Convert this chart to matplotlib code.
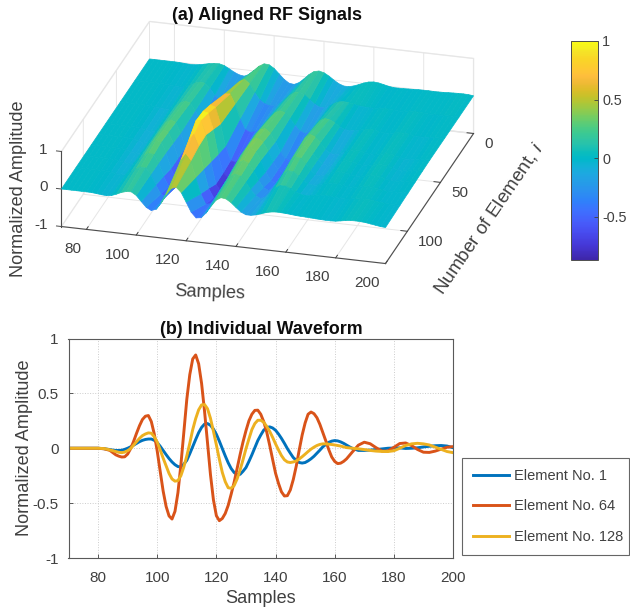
import numpy as np
import matplotlib
matplotlib.use("Agg")
import matplotlib.pyplot as plt
from matplotlib.colors import LinearSegmentedColormap, Normalize
from matplotlib.cm import ScalarMappable
from mpl_toolkits.mplot3d import Axes3D, proj3d  # noqa

plt.rcParams['font.family'] = ['Liberation Sans', 'DejaVu Sans']
plt.rcParams['axes.unicode_minus'] = False
plt.rcParams['mathtext.fontset'] = 'custom'
plt.rcParams['mathtext.it'] = 'Liberation Sans:italic'

samples = list(range(70, 201, 2))
flat = [0.0] * 6

element_1 = flat + [-.004,-.012,-.02,-.018,0,.028,.06,.08,.084,.052,-.02,-.094,-.15,-.17,-.11,.015,.142,.22,.209,.127,
    -.003,-.133,-.221,-.238,-.176,-.06,.07,.165,.195,.164,.09,-.003,-.085,-.13,-.13,-.096,-.045,.013,.054,.07,
    .058,.029,-.001,-.02,-.02,-.017,-.012,-.006,0,.002,.003,-.002,0,.004,.012,.018,.023,.025,.02,.005]
element_21 = flat + [-.004,-.015,-.034,-.04,-.019,.04,.11,.154,.14,.025,-.15,-.277,-.30,-.163,.085,.295,.362,.26,.05,-.133,
    -.226,-.268,-.252,-.176,-.058,.07,.167,.192,.137,.027,-.08,-.153,-.155,-.09,-.004,.053,.068,.058,.03,.003,
    -.01,-.015,-.012,-.003,.006,.008,-.005,-.012,-.01,.004,.017,.016,.008,-.001,-.005,-.001,.006,.013,.016,.008]
element_43 = flat + [-.005,-.017,-.046,-.058,-.034,.05,.154,.218,.187,.001,-.26,-.434,-.426,-.157,.25,.534,.55,.295,-.083,-.355,
    -.417,-.385,-.279,-.122,.042,.18,.25,.216,.088,-.09,-.226,-.282,-.215,-.057,.104,.181,.165,.097,.01,-.053,
    -.068,-.053,-.022,.011,.029,.02,0,-.019,-.016,.006,.029,.03,.016,-.006,-.019,-.018,-.009,.004,.013,.011]
element_64 = flat + [-.005,-.02,-.06,-.08,-.053,.062,.205,.292,.243,-.026,-.39,-.617,-.575,-.15,.446,.814,.77,.336,-.24,-.615,
    -.64,-.52,-.31,-.06,.16,.31,.347,.243,.03,-.227,-.397,-.432,-.285,-.017,.23,.33,.278,.142,-.013,-.12,
    -.136,-.097,-.033,.028,.055,.041,.005,-.026,-.025,.008,.043,.048,.024,-.011,-.036,-.038,-.026,-.008,.009,.015]
element_75 = flat + [-.005,-.021,-.063,-.087,-.057,.062,.21,.31,.27,0,-.39,-.66,-.65,-.25,.40,.93,.90,.48,-.17,-.65,
    -.76,-.62,-.38,-.09,.165,.33,.38,.29,.07,-.205,-.40,-.45,-.31,-.045,.205,.32,.28,.146,-.006,-.115,
    -.133,-.094,-.032,.024,.052,.036,.002,-.028,-.028,.004,.042,.049,.027,-.01,-.038,-.039,-.028,-.009,.005,.008]
element_85 = flat + [-.005,-.022,-.065,-.09,-.06,.06,.21,.32,.29,.03,-.38,-.68,-.72,-.36,.40,.96,1.0,.62,-.08,-.66,
    -.85,-.72,-.44,-.12,.17,.34,.41,.33,.11,-.18,-.40,-.46,-.33,-.07,.18,.31,.28,.15,0,-.11,
    -.13,-.09,-.03,.02,.05,.03,0,-.03,-.03,0,.04,.05,.03,-.01,-.04,-.04,-.03,-.01,0,0]
element_96 = flat + [-.005,-.02,-.055,-.075,-.05,.05,.175,.265,.245,.04,-.30,-.565,-.61,-.33,.225,.72,.90,.60,.01,-.49,
    -.72,-.64,-.41,-.135,.12,.285,.36,.30,.12,-.115,-.30,-.365,-.27,-.075,.12,.225,.21,.12,.01,-.07,
    -.09,-.065,-.022,.01,.03,.018,-.005,-.025,-.025,-.002,.028,.04,.032,.01,-.015,-.022,-.022,-.015,-.012,-.01]
element_107 = flat + [-.004,-.018,-.045,-.06,-.04,.04,.14,.21,.20,.05,-.22,-.45,-.50,-.30,.12,.50,.68,.52,.10,-.32,
    -.58,-.56,-.38,-.15,.07,.23,.31,.27,.13,-.05,-.20,-.27,-.21,-.08,.06,.14,.14,.09,.02,-.03,
    -.05,-.04,-.015,0,.01,.005,-.01,-.02,-.02,-.005,.015,.03,.035,.03,.01,-.005,-.015,-.02,-.025,-.02]
element_128 = flat + [-.003,-.015,-.03,-.04,-.022,.028,.09,.13,.137,.056,-.09,-.23,-.30,-.25,-.07,.17,.35,.398,.273,.03,
    -.22,-.36,-.34,-.2,-.005,.17,.255,.237,.155,.04,-.067,-.125,-.125,-.098,-.054,-.008,.025,.04,.037,.03,
    .02,.006,0,-.005,-.012,-.02,-.026,-.029,-.03,-.023,0,.025,.04,.045,.04,.03,.01,-.01,-.03,-.04]

# extra values read at the odd sample numbers for the line plot
odd_samples = list(range(83, 166, 2))
element_1_odd = [-.008,-.017,-.02,-.01,.013,.044,.072,.084,.072,.018,-.058,-.125,-.167,-.145,-.05,.08,.19,.225,.175,.065,
    -.07,-.185,-.24,-.21,-.12,.005,.12,.188,.185,.13,.045,-.045,-.11,-.135,-.115,-.073,-.017,.035,.065,.067,.045,.013]
element_64_odd = [-.012,-.04,-.072,-.078,-.004,.136,.262,.298,.13,-.21,-.53,-.645,-.405,.147,.67,.85,.59,.05,-.47,-.66,
    -.594,-.418,-.185,.057,.25,.345,.31,.15,-.10,-.32,-.435,-.38,-.163,.12,.31,.315,.217,.067,-.08,-.14,-.12,-.065]
element_128_odd = [-.008,-.022,-.037,-.035,-.003,.06,.115,.14,.105,-.015,-.16,-.28,-.295,-.17,.045,.27,.395,.36,.155,-.1,
    -.305,-.365,-.28,-.105,.085,.225,.255,.2,.10,-.015,-.105,-.13,-.115,-.077,-.03,.01,.035,.04,.034,.025,.013,.003]

surface_elements = [0, 22, 44, 66, 77, 88, 99, 111, 133]
surface_rows = [element_1, element_21, element_43, element_64, element_75, element_85, element_96, element_107, element_128]
x_ticks = list(range(80, 201, 20))
y_ticks = [0, 50, 100]
z_ticks = [-1, 0, 1]

line_labels = ['Element No. 1', 'Element No. 64', 'Element No. 128']
line_even = [element_1, element_64, element_128]
line_odd = [element_1_odd, element_64_odd, element_128_odd]
line_colors = ['#0072BD', '#D95319', '#EDB120']

W, H = 630, 609
parula_idx = [0,4,8,11,14,17,20,23,25,27,29,31,33,35,37,39,41,43,45,47,49,51,53,55,58,60,61,63]
parula_rgb = [
    (.2422,.1504,.6603),(.2706,.2147,.8364),(.2813,.3006,.9414),(.2760,.3667,.9829),(.2440,.4358,.9988),
    (.1834,.5074,.9798),(.1687,.5703,.9359),(.1380,.6276,.8973),(.1113,.6635,.8763),(.0689,.6948,.8394),
    (.0036,.7203,.7917),(.0433,.7411,.7394),(.1408,.7584,.6842),(.1938,.7758,.6251),(.2470,.7918,.5567),
    (.3406,.8008,.4789),(.4456,.8024,.3909),(.5616,.7942,.3045),(.6720,.7793,.2227),(.7738,.7598,.1646),
    (.8634,.7406,.1596),(.9393,.7288,.2100),(.9956,.7434,.2371),(.9952,.7861,.1991),(.9769,.8390,.1507),
    (.9610,.8890,.1537),(.9628,.9373,.1265),(.9769,.9839,.0805)]
parula = LinearSegmentedColormap.from_list('parula', [(i / 63, c) for i, c in zip(parula_idx, parula_rgb)], N=256)
norm = Normalize(-0.87, 1)

dark = (.25, .25, .25)
axis_col = (.3, .3, .3)
fig = plt.figure(figsize=(W / 100, H / 100), dpi=100)

# ---------- 3D surface ----------
L = 480
cx, cy = 267.5, 142.5
left = cx - .5135 * L
bottom_from_top = cy + .5135 * L
ax3 = fig.add_axes([left / W, 1 - bottom_from_top / H, L / W, L / H], projection='3d')
ax3.patch.set_visible(False)
ax3.set_proj_type('ortho')
ax3.view_init(elev=24.25, azim=-74.46)
ax3.set_box_aspect((336.3, 328.6, 82.3), zoom=.9655)

X, Y = np.meshgrid(samples, surface_elements)
Z = np.array(surface_rows)
Zavg = (Z[:-1, :-1] + Z[1:, :-1] + Z[:-1, 1:] + Z[1:, 1:]) / 4
fc = parula(norm(Zavg))
surf = ax3.plot_surface(X, Y, Z, rstride=1, cstride=1, facecolors=fc, shade=False, linewidth=0.5)
surf.set_edgecolor(fc.reshape(-1, 4))

ax3.set_xlim(70, 200)
ax3.set_ylim(133, 0)
ax3.set_zlim(-1, 1)
ax3.set_xticks(x_ticks)
ax3.set_yticks(y_ticks)
ax3.set_zticks(z_ticks)
ax3.set_zticklabels([])
ax3.zaxis.set_ticks_position('none')
for axis in (ax3.xaxis, ax3.yaxis, ax3.zaxis):
    axis.pane.set_facecolor((1, 1, 1, 0))
    axis.pane.set_edgecolor((.87, .87, .87))
    axis.line.set_color(axis_col)
    axis.line.set_linewidth(.8)
    axis._axinfo['grid'].update(color=(.9, .9, .9), linewidth=.7)
    axis._axinfo['tick'].update(inward_factor=0, outward_factor=.25)
    axis._axinfo['tick']['linewidth'] = {True: .7, False: .5}
    axis._axinfo['tick']['color'] = axis_col
ax3.tick_params(labelsize=11, colors=dark, pad=3)
ax3.tick_params(axis='y', pad=-2)
for t in ax3.get_xticklabels():
    t.set_ha('right')
for t in ax3.get_yticklabels():
    t.set_ha('left')

# z axis on the front-left corner, as in the reference
ax3.plot([70, 70], [133, 133], [z_ticks[0], z_ticks[-1]], color=axis_col, lw=.8)
proj = ax3.get_proj()
for z in z_ticks:
    ax3.plot([70, 68], [133, 133], [z, z], color=axis_col, lw=.7)
    px, py, _ = proj3d.proj_transform(64.5, 133, z, proj)
    ax3.text2D(px, py, str(z), transform=ax3.transData, ha='right', va='center', fontsize=11, color=dark)

fig.text(210 / W, 1 - 293 / H, 'Samples', fontsize=13.1, color=dark, rotation=-2, ha='center', va='center')
fig.text(489 / W, 1 - 218 / H, 'Number of Element, $\\mathit{i}$', fontsize=13.6, color=dark,
         rotation=55.6, ha='center', va='center', rotation_mode='anchor')
fig.text(19 / W, 1 - 189 / H, 'Normalized Amplitude', fontsize=13.1, color=dark, rotation=90, ha='center', va='center')
fig.text(267 / W, 1 - 15 / H, '(a) Aligned RF Signals', fontsize=12.9, fontweight='bold',
         ha='center', va='center', color=(.05, .05, .05))

# ---------- colorbar ----------
cax = fig.add_axes([571 / W, 1 - 260 / H, 27 / W, 219 / H])
cb = fig.colorbar(ScalarMappable(norm=norm, cmap=parula), cax=cax)
cb.set_ticks([-.5, 0, .5, 1])
cb.set_ticklabels(['-0.5', '0', '0.5', '1'])
cb.ax.tick_params(direction='in', length=3, width=.6, labelsize=10.4, colors=dark, pad=3)
cb.outline.set_edgecolor(axis_col)
cb.outline.set_linewidth(.7)

# ---------- line plot ----------
ax = fig.add_axes([68.5 / W, 1 - 558 / H, 384.5 / W, 219.5 / H])
handles = []
for even, odd, label, color in zip(line_even, line_odd, line_labels, line_colors):
    xs = np.array(samples + odd_samples)
    vs = np.array(even + odd)
    order = np.argsort(xs)
    h, = ax.plot(xs[order], vs[order], color=color, lw=2.1, label=label, solid_joinstyle='round')
    handles.append(h)
ax.set_xlim(70, 200)
ax.set_ylim(-1, 1)
ax.set_xticks(x_ticks)
ax.set_yticks([-1, -.5, 0, .5, 1])
ax.set_yticklabels(['-1', '-0.5', '0', '0.5', '1'])
ax.grid(True, linestyle=':', color=(.8, .8, .8), linewidth=.7)
ax.tick_params(axis='x', direction='in', length=3, width=.6, labelsize=11, colors=dark, top=False, right=False, pad=9)
ax.tick_params(axis='y', direction='in', length=3, width=.6, labelsize=11, colors=dark, top=False, right=False, pad=7)
for s in ax.spines.values():
    s.set_color((.35, .35, .35))
    s.set_linewidth(.8)
ax.set_xlabel('Samples', fontsize=13.1, color=dark, labelpad=4)
ax.set_ylabel('Normalized Amplitude', fontsize=13.1, color=dark, labelpad=0)
fig.text(261 / W, 1 - 329 / H, '(b) Individual Waveform', fontsize=12.9, fontweight='bold',
         ha='center', va='center', color=(.05, .05, .05))

leg = fig.legend(handles, line_labels, loc='upper left',
                 bbox_to_anchor=(462 / W, 1 - 554 / H, 167 / W, 96 / H), mode='expand', borderaxespad=0,
                 fontsize=10.5, fancybox=False, edgecolor=(.4, .4, .4), framealpha=1,
                 handlelength=2.5, handletextpad=.3, labelspacing=1.12, borderpad=.75)
leg.get_frame().set_linewidth(.8)
for t in leg.get_texts():
    t.set_color(dark)

fig.savefig('out.png', dpi=100)
